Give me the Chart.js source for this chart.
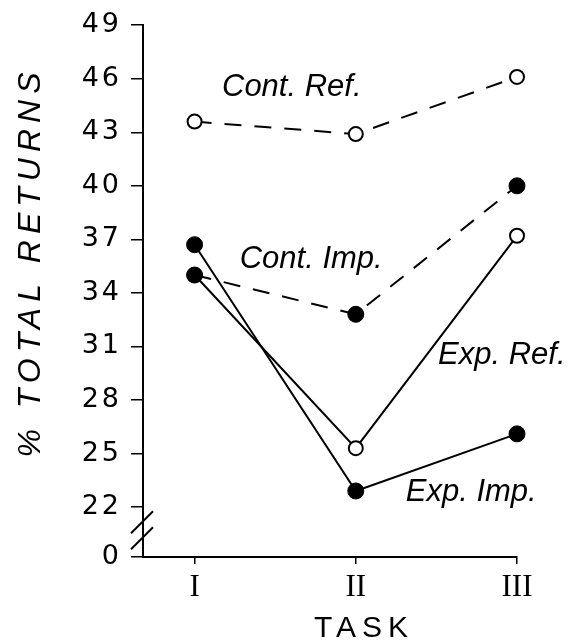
<!DOCTYPE html>
<html>
<head>
<meta charset="utf-8">
<script src="https://cdn.jsdelivr.net/npm/chart.js@4.4.1/dist/chart.umd.min.js"></script>
<style>
html, body { margin: 0; padding: 0; background: #fff; }
#wrap { width: 580px; height: 642px; }
</style>
</head>
<body>
<div id="wrap"><canvas id="returnsChart"></canvas></div>
<script>
// values (% total returns per task)
var taskLabels = ['I', 'II', 'III'];
var yTickValues = [0, 22, 25, 28, 31, 34, 37, 40, 43, 46, 49];
var contRef = [43.6, 42.9, 46.1];
var contImp = [35.0, 32.8, 40.0];
var expRef = [35.0, 25.3, 37.2];
var expImp = [36.7, 22.9, 26.1];

// the axis is broken: "0" sits just under 22
var BREAK_AT = 19.2;

function toPoints(arr) {
    return arr.map(function (v, i) { return { x: i, y: v }; });
}

function series(label, values, open, dashed, order) {
    return {
        label: label,
        data: toPoints(values),
        order: order,
        borderColor: '#000',
        borderWidth: 2,
        borderDash: dashed ? [17, 13] : [],
        pointRadius: open ? 7 : 8,
        pointHoverRadius: open ? 7 : 8,
        pointBackgroundColor: open ? '#fff' : '#000',
        pointBorderColor: '#000',
        pointBorderWidth: open ? 2 : 1,
        fill: false,
        tension: 0,
        clip: false
    };
}

// series name labels written next to the lines
var seriesNotes = [
    { text: 'Cont. Ref.', x: 0.17, y: 45.5 },
    { text: 'Cont. Imp.', x: 0.28, y: 35.9 },
    { text: 'Exp. Ref.', x: 1.51, y: 30.5 },
    { text: 'Exp. Imp.', x: 1.31, y: 22.8 }
];

// wide spacing for the y tick numbers (x ticks are drawn later, with z: 1)
var spacingPlugin = {
    id: 'tickSpacing',
    beforeDraw: function (chart) { chart.ctx.letterSpacing = '3px'; },
    beforeDatasetsDraw: function (chart) { chart.ctx.letterSpacing = '0px'; }
};

var decorPlugin = {
    id: 'decor',
    afterDraw: function (chart) {
        var ctx = chart.ctx;
        var xs = chart.scales.x, ys = chart.scales.y;
        ctx.save();
        ctx.fillStyle = '#000';
        ctx.strokeStyle = '#000';

        // notes
        ctx.font = 'italic 31px "Liberation Sans"';
        ctx.textAlign = 'left';
        ctx.textBaseline = 'middle';
        seriesNotes.forEach(function (n) {
            ctx.fillText(n.text, xs.getPixelForValue(n.x), ys.getPixelForValue(n.y));
        });

        // y title
        ctx.save();
        ctx.translate(40, 262);
        ctx.rotate(-Math.PI / 2);
        ctx.letterSpacing = '6px';
        ctx.font = 'italic 32px "Liberation Sans"';
        ctx.textAlign = 'center';
        ctx.textBaseline = 'alphabetic';
        ctx.fillText('% TOTAL RETURNS', 0, 0);
        ctx.restore();

        // x title
        ctx.letterSpacing = '6px';
        ctx.font = '30px "Liberation Sans"';
        ctx.textAlign = 'center';
        ctx.textBaseline = 'alphabetic';
        ctx.fillText('TASK', 364, 637);
        ctx.letterSpacing = '0px';

        // axis break marks
        var ax = chart.chartArea.left;
        ctx.lineWidth = 2;
        [21.15, 20.25].forEach(function (v) {
            var cy = ys.getPixelForValue(v);
            ctx.beginPath();
            ctx.moveTo(ax - 12, cy + 11);
            ctx.lineTo(ax + 10, cy - 11);
            ctx.stroke();
        });
        ctx.restore();
    }
};

var returnsChart = new Chart(document.getElementById('returnsChart'), {
    type: 'line',
    data: {
        datasets: [
            series('Cont. Imp.', contImp, false, true, 0),
            series('Exp. Imp.', expImp, false, false, 1),
            series('Cont. Ref.', contRef, true, true, 2),
            series('Exp. Ref.', expRef, true, false, 3)
        ]
    },
    options: {
        responsive: true,
        maintainAspectRatio: false,
        devicePixelRatio: 1,
        animation: false,
        layout: { padding: { top: 22, right: 63, left: 0, bottom: 0 } },
        plugins: {
            legend: { display: false },
            tooltip: { enabled: false }
        },
        scales: {
            x: {
                type: 'linear',
                min: -0.32,
                max: 2,
                afterBuildTicks: function (s) {
                    s.ticks = taskLabels.map(function (t, i) { return { value: i }; });
                },
                afterFit: function (s) { s.height = 85; },
                ticks: {
                    z: 1,
                    autoSkip: false,
                    maxRotation: 0,
                    padding: 5,
                    color: '#000',
                    font: { family: 'Liberation Serif', size: 31 },
                    callback: function (v) { return taskLabels[v]; }
                },
                grid: { drawOnChartArea: false, tickLength: 7, color: '#000', lineWidth: 1.5 },
                border: { color: '#000', width: 2 }
            },
            y: {
                type: 'linear',
                min: BREAK_AT,
                max: 49,
                afterBuildTicks: function (s) {
                    s.ticks = yTickValues.map(function (v) { return { value: v === 0 ? BREAK_AT : v }; });
                },
                afterFit: function (s) { s.width = 143; },
                ticks: {
                    autoSkip: false,
                    padding: 9,
                    color: '#000',
                    font: { family: 'DejaVu Sans', size: 27 },
                    callback: function (v) { return v === BREAK_AT ? '0' : String(v); }
                },
                grid: { drawOnChartArea: false, tickLength: 12, color: '#000', lineWidth: 1.5 },
                border: { color: '#000', width: 2 }
            }
        }
    },
    plugins: [spacingPlugin, decorPlugin]
});
</script>
</body>
</html>
